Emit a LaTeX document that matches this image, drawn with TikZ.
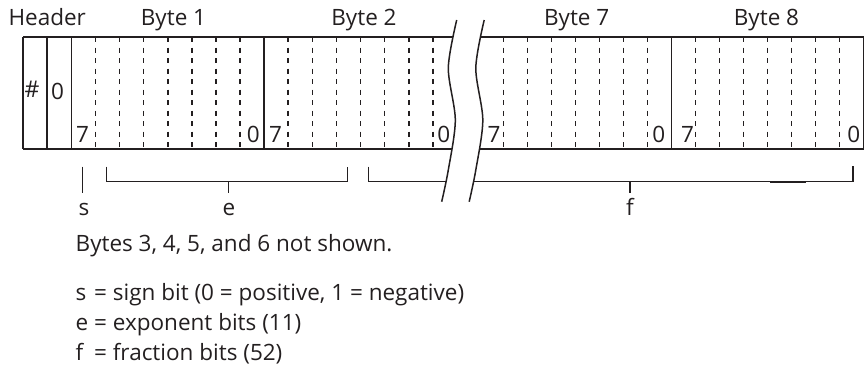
\documentclass[tikz,border=0pt]{standalone}
\usepackage{fontspec}
\setmainfont{Open Sans}
\definecolor{ink}{HTML}{231F20}
\begin{document}
\begin{tikzpicture}[x=1pt,y=-1pt,
  every node/.style={inner sep=0pt, font=\fontsize{22.5}{27}\selectfont, text=ink},
  solidln/.style={draw=ink, line width=1.4pt},
  bitdash/.style={draw=ink, line width=1.6pt, dash pattern=on 5pt off 5.5pt},
  bracketln/.style={draw=ink, line width=1.3pt},
  wave/.style={draw=ink, line width=1.5pt},
  lbl/.style={anchor=base west},
  lblr/.style={anchor=base east}]
\useasboundingbox (0,0) rectangle (865,372);

% frame of the register
\draw[solidln] (23,37) -- (863.5,37);
\draw[solidln] (23,149) -- (863.5,149);
\foreach \x in {23,47,71.3,264.1,671.5,863.5} \draw[solidln] (\x,37) -- (\x,149);
% dashed bit separators, bytes 1 and 2
\foreach \i in {1,...,7} \draw[bitdash] ({71.3+24.1*\i},37) -- ({71.3+24.1*\i},149);
\foreach \i in {9,...,15} \draw[bitdash] ({71.3+24.1*\i},37) -- ({71.3+24.1*\i},149);
% dashed bit separators, bytes 7 and 8
\foreach \i in {1,...,7} \draw[bitdash] ({479.5+24*\i},37) -- ({479.5+24*\i},149);
\foreach \i in {9,...,15} \draw[bitdash] ({479.5+24*\i},37) -- ({479.5+24*\i},149);

% brackets
\coordinate (sT) at (82.3,166.7);
\coordinate (sB) at (82.3,192.7);
\draw[bracketln] (sT) -- (sB);
\coordinate (eL) at (106.7,166.7);
\coordinate (eR) at (347.7,166.7);
\coordinate (eM) at (228.3,181.7);
\draw[bracketln] (eL) -- (106.7,181.7) -- (347.7,181.7) -- (eR);
\draw[bracketln] (eM) -- (228.3,192.7);
\coordinate (fL) at (368.3,166.7);
\coordinate (fR) at (852.7,165.5);
\coordinate (fM) at (630,181.7);
\draw[bracketln] (fL) -- (368.3,181.7) -- (852.7,181.7) -- (fR);
\draw[bracketln] (fM) -- (630,192.7);
\draw[draw=ink, line width=2.2pt] (770,181.7) -- (806,181.7);
\draw[draw=ink, line width=2pt] (852.7,181.7) -- (fR);

% break
\fill[white] plot[smooth] coordinates {(456.7,20) (448.3,68) (455.3,120) (448.3,170) (441.7,201.7)}
  -- plot[smooth] coordinates {(469.2,201.7) (475.8,170) (482.8,120) (475.8,68) (484.2,20)} -- cycle;
\draw[wave] plot[smooth] coordinates {(456.7,20) (448.3,68) (455.3,120) (448.3,170) (441.7,201.7)};
\draw[wave] plot[smooth] coordinates {(484.2,20) (475.8,68) (482.8,120) (475.8,170) (469.2,201.7)};

% titles
\node[anchor=base] (hdr) at (47.2,25) {Header};
\node[anchor=base] (by1) at (173.5,25) {Byte 1};
\node[anchor=base] (by2) at (364,25) {Byte 2};
\node[anchor=base] (by7) at (576.7,25) {Byte 7};
\node[anchor=base] (by8) at (766.5,25) {Byte 8};

% header cells
\node (hash) at (32,89) {\fontsize{23}{25}\selectfont\#};
\node (hzero) at (57.5,91) {0};

% bit numbers
\node[lbl] (s1) at (76,142) {7};
\node[lblr] (e1) at (260,142) {0};
\node[lbl] (s2) at (269,142) {7};
\node[lblr] (e2) at (450.5,142) {0};
\node[lbl] (s7) at (487.5,142) {7};
\node[lblr] (e7) at (665.5,142) {0};
\node[lbl] (s8) at (681,142) {7};
\node[lblr] (e8) at (860.5,142) {0};

% field letters
\node[anchor=base] (ls) at (84,215.5) {s};
\node[anchor=base] (le) at (229,215.5) {e};
\node[anchor=base] (lf) at (630,215.5) {f};

% notes
\node[lbl] (note) at (75.5,251.7) {Bytes 3, 4, 5, and 6 not shown.};
\node[lbl] (ns) at (75.5,300) {\rlap{s}\hphantom{e} = sign bit (0 = positive, 1 = negative)};
\node[lbl] (ne) at (75.5,330) {e = exponent bits (11)};
\node[lbl] (nf) at (75.5,360) {\rlap{f}\hphantom{e} = fraction bits (52)};
\end{tikzpicture}
\end{document}
